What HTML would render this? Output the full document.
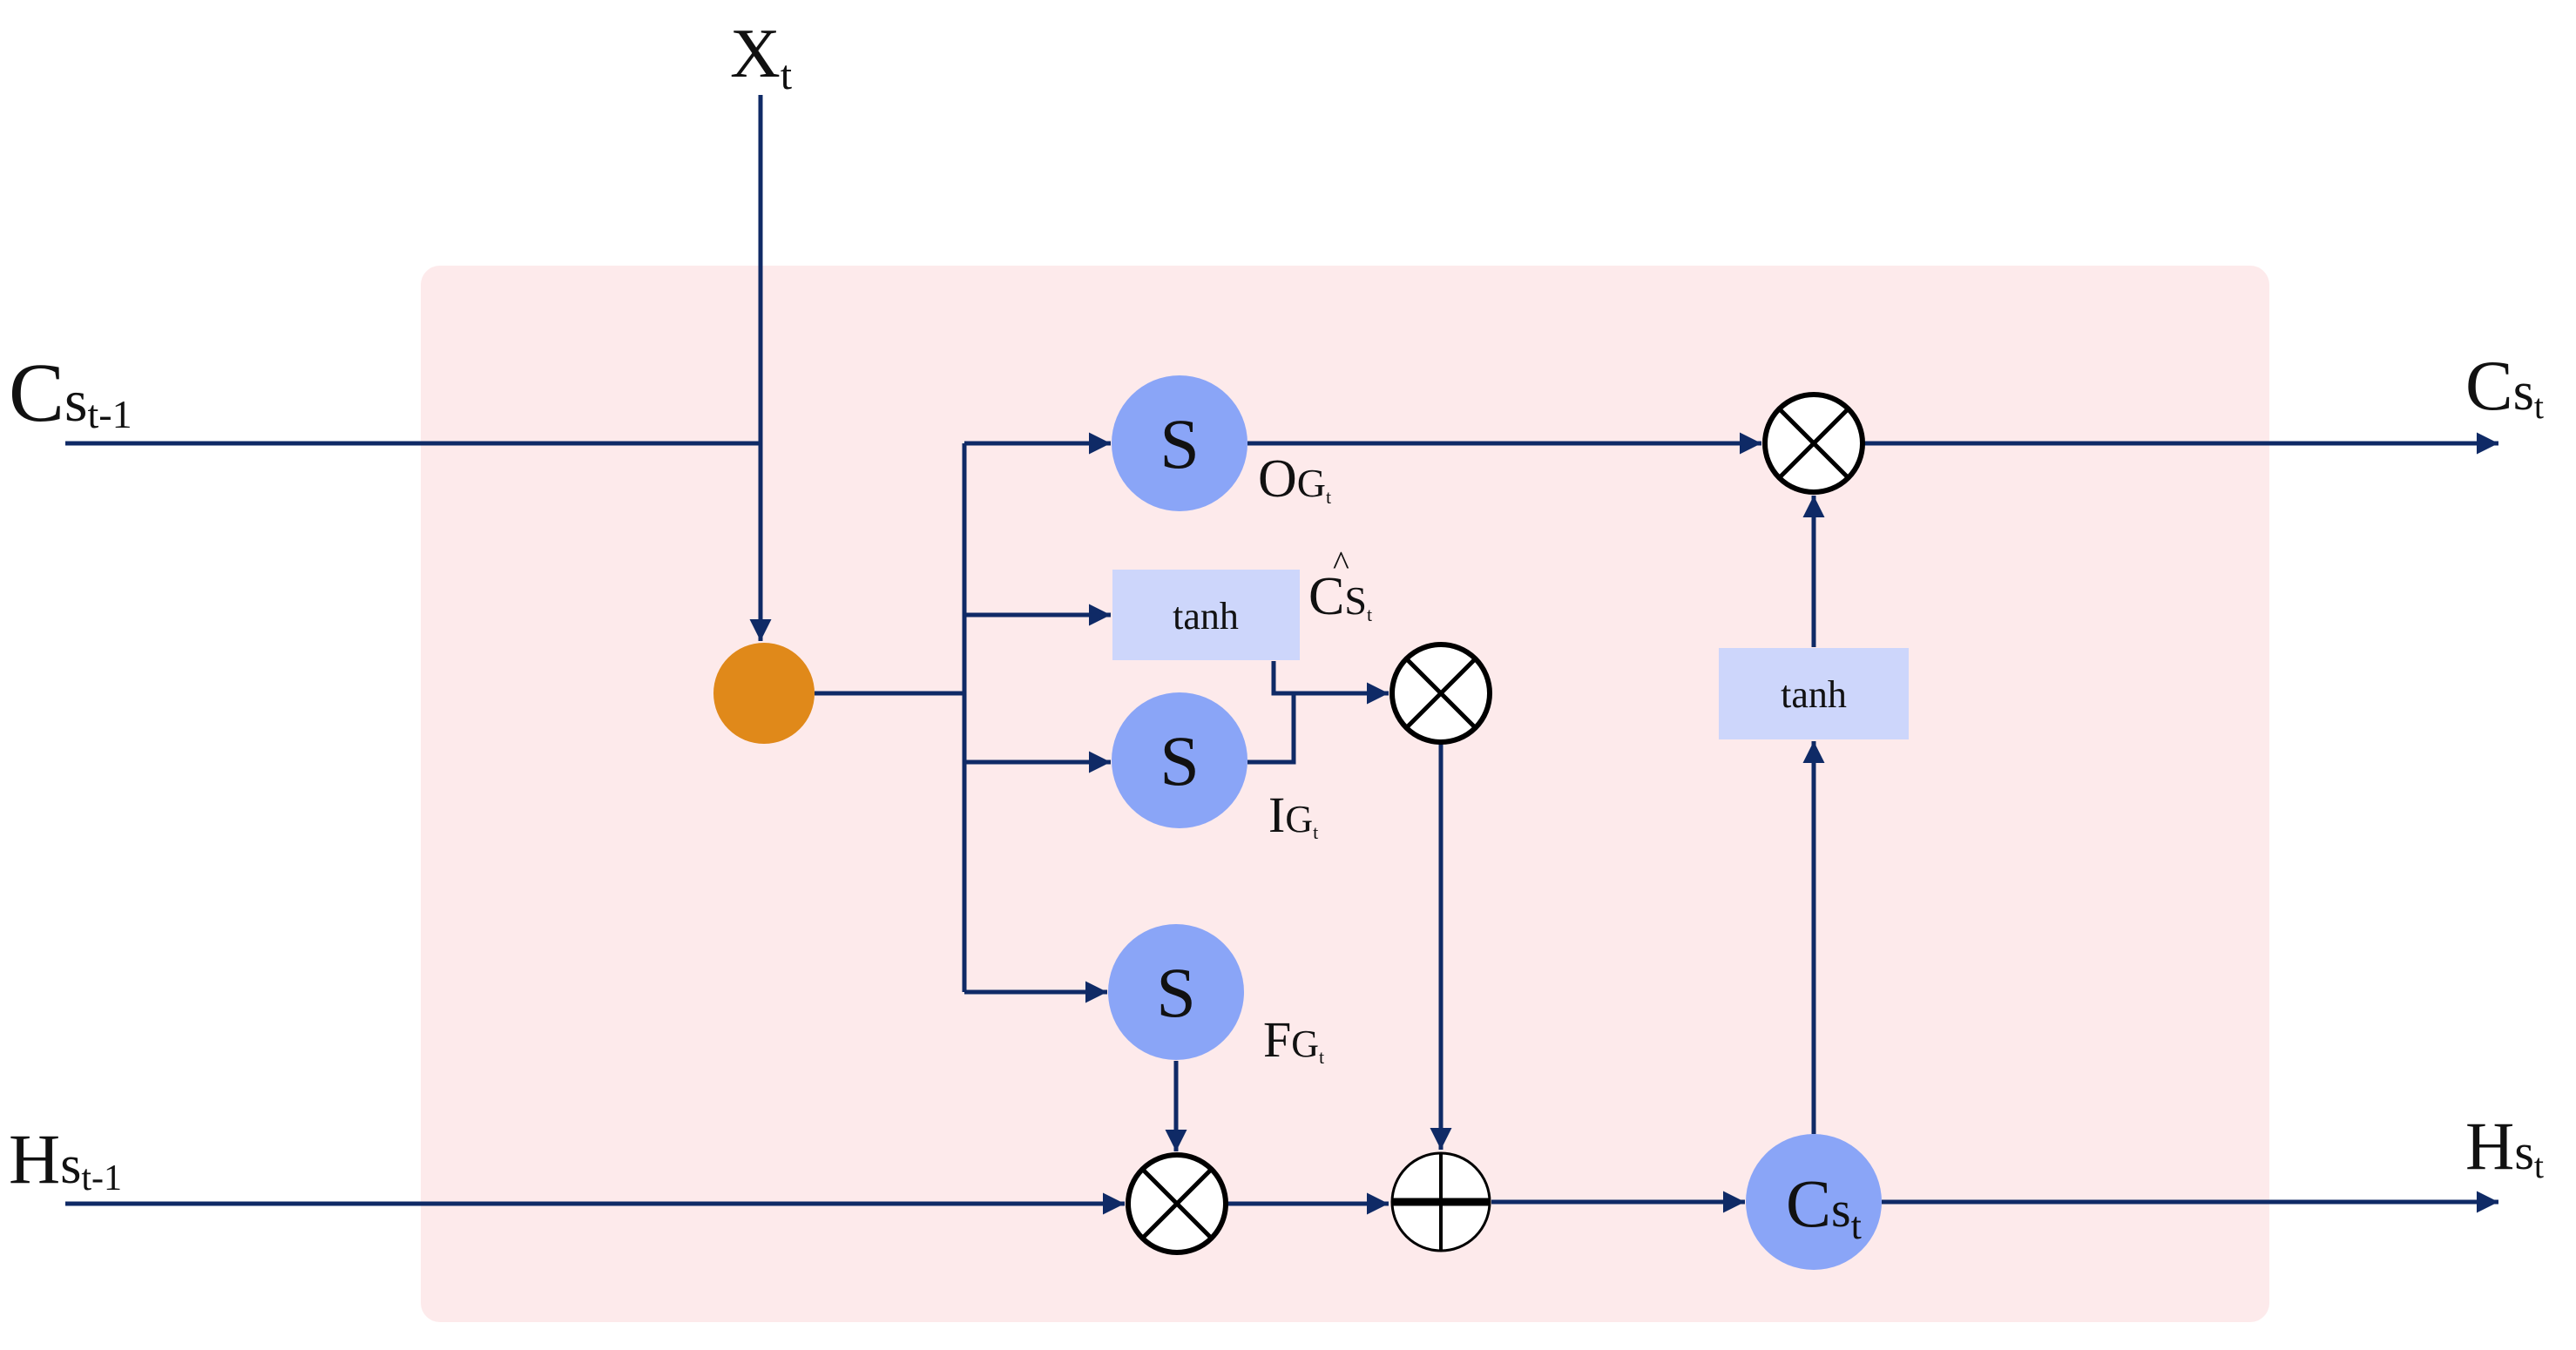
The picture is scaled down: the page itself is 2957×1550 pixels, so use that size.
<!DOCTYPE html>
<html><head><meta charset="utf-8">
<style>html,body{margin:0;padding:0;background:#fff}svg{display:block}</style>
</head><body>
<svg width="2957" height="1550" viewBox="0 0 2957 1550" xmlns="http://www.w3.org/2000/svg" font-family="Liberation Serif, serif">
<defs>
<marker id="a" viewBox="0 0 10 10" refX="10" refY="5" markerWidth="5" markerHeight="5" orient="auto" markerUnits="strokeWidth">
<path d="M0,0 L10,5 L0,10 z" fill="#0f2a66"/>
</marker>
</defs>
<rect x="483" y="305" width="2122" height="1213" rx="22" fill="#fdeaeb"/>
<g stroke="#0f2a66" stroke-width="5" fill="none">
<!-- Xt down -->
<line x1="873" y1="109" x2="873" y2="736" marker-end="url(#a)"/>
<line x1="75" y1="509" x2="873" y2="509"/>
<line x1="935" y1="796" x2="1107" y2="796"/>
<line x1="1107" y1="509" x2="1107" y2="1139"/>
<line x1="1107" y1="509" x2="1275" y2="509" marker-end="url(#a)"/>
<line x1="1107" y1="706" x2="1275" y2="706" marker-end="url(#a)"/>
<line x1="1107" y1="875" x2="1275" y2="875" marker-end="url(#a)"/>
<line x1="1107" y1="1139" x2="1271" y2="1139" marker-end="url(#a)"/>
<line x1="1432" y1="509" x2="2022" y2="509" marker-end="url(#a)"/>
<line x1="2140" y1="509" x2="2868" y2="509" marker-end="url(#a)"/>
<polyline points="1462,759 1462,796 1594,796" marker-end="url(#a)"/>
<polyline points="1432,875 1485,875 1485,796"/>
<line x1="1654" y1="854" x2="1654" y2="1320" marker-end="url(#a)"/>
<line x1="1350" y1="1218" x2="1350" y2="1322" marker-end="url(#a)"/>
<line x1="75" y1="1382" x2="1291" y2="1382" marker-end="url(#a)"/>
<line x1="1409" y1="1382" x2="1594" y2="1382" marker-end="url(#a)"/>
<line x1="1712" y1="1380" x2="2003" y2="1380" marker-end="url(#a)"/>
<line x1="2160" y1="1380" x2="2868" y2="1380" marker-end="url(#a)"/>
<line x1="2082" y1="1302" x2="2082" y2="851" marker-end="url(#a)"/>
<line x1="2082" y1="743" x2="2082" y2="569" marker-end="url(#a)"/>
</g>
<circle cx="877" cy="796" r="58" fill="#e0891a"/>
<g fill="#8aa5f7">
<circle cx="1354" cy="509" r="78"/>
<circle cx="1354" cy="873" r="78"/>
<circle cx="1350" cy="1139" r="78"/>
<circle cx="2082" cy="1380" r="78"/>
</g>
<rect x="1277" y="654" width="215" height="104" fill="#cdd6fb"/>
<rect x="1973" y="744" width="218" height="105" fill="#cdd6fb"/>
<!-- multiply circles -->
<g stroke="#000" stroke-width="6" fill="#fff">
<circle cx="2082" cy="509" r="56"/>
<circle cx="1654" cy="796" r="56"/>
<circle cx="1351" cy="1382" r="56"/>
</g>
<g stroke="#000" stroke-width="5">
<line x1="2042" y1="469" x2="2122" y2="549"/><line x1="2122" y1="469" x2="2042" y2="549"/>
<line x1="1614" y1="756" x2="1694" y2="836"/><line x1="1694" y1="756" x2="1614" y2="836"/>
<line x1="1311" y1="1342" x2="1391" y2="1422"/><line x1="1391" y1="1342" x2="1311" y2="1422"/>
</g>
<circle cx="1654" cy="1380" r="56" fill="#fff" stroke="#000" stroke-width="3"/>
<line x1="1598" y1="1380" x2="1710" y2="1380" stroke="#000" stroke-width="9"/>
<line x1="1654" y1="1324" x2="1654" y2="1436" stroke="#000" stroke-width="4"/>
<g fill="#111" text-anchor="middle">
<text x="1354" y="537" font-size="82">S</text>
<text x="1354" y="901" font-size="82">S</text>
<text x="1350" y="1167" font-size="82">S</text>
<text x="1384" y="722" font-size="44">tanh</text>
<text x="2082" y="812" font-size="44">tanh</text>
</g>
<g fill="#111">
<text x="2050" y="1408" font-size="78">C<tspan font-size="58">s</tspan><tspan font-size="44" dy="14">t</tspan></text>
<text x="838" y="88" font-size="80">X<tspan font-size="48" dy="14">t</tspan></text>
<text x="10" y="483" font-size="96">C<tspan font-size="68">s</tspan><tspan font-size="46" dy="8">t-1</tspan></text>
<text x="10" y="1358" font-size="82">H<tspan font-size="62">s</tspan><tspan font-size="42" dy="8">t-1</tspan></text>
<text x="2830" y="470" font-size="82">C<tspan font-size="62">s</tspan><tspan font-size="40" dy="10">t</tspan></text>
<text x="2830" y="1342" font-size="78">H<tspan font-size="58">s</tspan><tspan font-size="40" dy="10">t</tspan></text>
<text x="1444" y="570" font-size="62">O<tspan font-size="46">G</tspan><tspan font-size="22" dy="8">t</tspan></text>
<text x="1502" y="705" font-size="62">C<tspan font-size="46">S</tspan><tspan font-size="22" dy="8">t</tspan></text>
<text x="1530" y="660" font-size="40">^</text>
<text x="1456" y="955" font-size="58">I<tspan font-size="44">G</tspan><tspan font-size="22" dy="8">t</tspan></text>
<text x="1450" y="1213" font-size="58">F<tspan font-size="44">G</tspan><tspan font-size="22" dy="8">t</tspan></text>
</g>
</svg>
</body></html>
